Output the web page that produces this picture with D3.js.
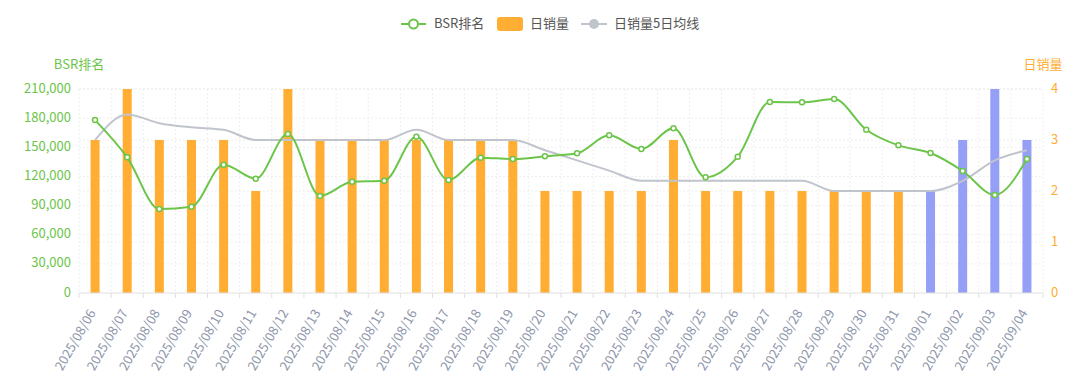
<!DOCTYPE html>
<html>
<head>
<meta charset="utf-8">
<script src="https://cdn.jsdelivr.net/npm/d3@7/dist/d3.min.js"></script>
<style>
  html, body { margin: 0; padding: 0; background: #fff; }
  svg { display: block; font-family: "Noto Sans CJK SC", "Noto Sans", sans-serif; }
</style>
</head>
<body>
<div id="chart"></div>
<script>
// data
const dates = [
  '2025/08/06', '2025/08/07', '2025/08/08', '2025/08/09', '2025/08/10', '2025/08/11',
  '2025/08/12', '2025/08/13', '2025/08/14', '2025/08/15', '2025/08/16', '2025/08/17',
  '2025/08/18', '2025/08/19', '2025/08/20', '2025/08/21', '2025/08/22', '2025/08/23',
  '2025/08/24', '2025/08/25', '2025/08/26', '2025/08/27', '2025/08/28', '2025/08/29',
  '2025/08/30', '2025/08/31', '2025/09/01', '2025/09/02', '2025/09/03', '2025/09/04'
];
const bsrRank = [
  178000, 139700, 86500, 88900, 132100, 117700,
  163700, 99900, 114600, 115600, 160900, 116300,
  139300, 137900, 140700, 143800, 162300, 148200,
  169500, 119100, 140300, 196600, 196300, 199700,
  168100, 152000, 144100, 125600, 100900, 137900
];
const dailySales = [
  3, 4, 3, 3, 3, 2,
  4, 3, 3, 3, 3, 3,
  3, 3, 2, 2, 2, 2,
  3, 2, 2, 2, 2, 2,
  2, 2, 2, 3, 4, 3
];
const salesMa5 = [
  3, 3.5, 3.33, 3.25, 3.2, 3,
  3, 3, 3, 3, 3.2, 3,
  3, 3, 2.8, 2.6, 2.4, 2.2,
  2.2, 2.2, 2.2, 2.2, 2.2, 2,
  2, 2, 2, 2.2, 2.6, 2.8
];
// the last days are drawn in blue
const highlightFrom = '2025/09/01';
const leftTicks = [0, 30000, 60000, 90000, 120000, 150000, 180000, 210000];
const rightTicks = [0, 1, 2, 3, 4];

const COLORS = {
  bsr: '#6cc54a',
  sales: '#ffad33',
  salesHi: '#959ff6',
  ma: '#c0c4cc',
  label: '#8e96ab',
  grid: '#eeeeee',
  axis: '#e0e0e0',
  legendText: '#555'
};
const FONT = 13;

const W = 1078, H = 387;
const margin = { top: 89, right: 35, bottom: 94, left: 79 };
const innerW = W - margin.left - margin.right;
const innerH = H - margin.top - margin.bottom;

const svg = d3.select('#chart').append('svg')
  .attr('width', W)
  .attr('height', H);

const g = svg.append('g')
  .attr('transform', `translate(${margin.left},${margin.top})`);

const x = d3.scaleBand().domain(dates).range([0, innerW]);
const yLeft = d3.scaleLinear().domain([0, 210000]).range([innerH, 0]);
const yRight = d3.scaleLinear().domain([0, 4]).range([innerH, 0]);
const cx = d => x(d) + x.bandwidth() / 2;

// grid lines, both axes
const grid = g.append('g');
leftTicks.slice(1).forEach(t => {
  grid.append('line')
    .attr('x1', 0).attr('x2', innerW)
    .attr('y1', yLeft(t)).attr('y2', yLeft(t))
    .attr('stroke', COLORS.grid).attr('stroke-dasharray', '2,2');
});
rightTicks.slice(1).forEach(t => {
  grid.append('line')
    .attr('x1', 0).attr('x2', innerW)
    .attr('y1', yRight(t)).attr('y2', yRight(t))
    .attr('stroke', COLORS.grid).attr('stroke-dasharray', '2,2');
});
dates.forEach(d => {
  grid.append('line')
    .attr('x1', x(d)).attr('x2', x(d))
    .attr('y1', 0).attr('y2', innerH)
    .attr('stroke', COLORS.grid).attr('stroke-dasharray', '2,2');
});
grid.append('line')
  .attr('x1', innerW).attr('x2', innerW)
  .attr('y1', 0).attr('y2', innerH)
  .attr('stroke', COLORS.grid).attr('stroke-dasharray', '2,2');

// bars
const barW = 9;
g.selectAll('.bar')
  .data(dates)
  .join('rect')
  .attr('class', 'bar')
  .attr('x', d => cx(d) - barW / 2)
  .attr('width', barW)
  .attr('y', (d, i) => yRight(dailySales[i]))
  .attr('height', (d, i) => innerH - yRight(dailySales[i]))
  .attr('fill', d => d >= highlightFrom ? COLORS.salesHi : COLORS.sales);

// moving average line
const maLine = d3.line()
  .x((d, i) => cx(dates[i]))
  .y(d => yRight(d))
  .curve(d3.curveMonotoneX);
g.append('path')
  .datum(salesMa5)
  .attr('d', maLine)
  .attr('fill', 'none')
  .attr('stroke', COLORS.ma)
  .attr('stroke-width', 2);

// BSR line
const bsrLine = d3.line()
  .x((d, i) => cx(dates[i]))
  .y(d => yLeft(d))
  .curve(d3.curveMonotoneX);
g.append('path')
  .datum(bsrRank)
  .attr('d', bsrLine)
  .attr('fill', 'none')
  .attr('stroke', COLORS.bsr)
  .attr('stroke-width', 2);
g.selectAll('.bsr-dot')
  .data(bsrRank)
  .join('circle')
  .attr('class', 'bsr-dot')
  .attr('cx', (d, i) => cx(dates[i]))
  .attr('cy', d => yLeft(d))
  .attr('r', 2.5)
  .attr('fill', '#fff')
  .attr('stroke', COLORS.bsr)
  .attr('stroke-width', 1.5);

// x axis
const xAxis = g.append('g').attr('transform', `translate(0,${innerH})`);
xAxis.append('line')
  .attr('x1', 0).attr('x2', innerW)
  .attr('stroke', COLORS.axis);
dates.forEach(d => {
  xAxis.append('line')
    .attr('x1', x(d)).attr('x2', x(d))
    .attr('y1', 0).attr('y2', 5)
    .attr('stroke', COLORS.axis);
});
xAxis.append('line')
  .attr('x1', innerW).attr('x2', innerW)
  .attr('y1', 0).attr('y2', 5)
  .attr('stroke', COLORS.axis);
xAxis.selectAll('.xlabel')
  .data(dates)
  .join('text')
  .attr('class', 'xlabel')
  .attr('transform', d => `translate(${cx(d) - 2},${18}) rotate(-60)`)
  .attr('text-anchor', 'end')
  .attr('dominant-baseline', 'middle')
  .attr('font-size', FONT)
  .attr('fill', COLORS.label)
  .text(d => d);

// left axis
g.selectAll('.ylabel-left')
  .data(leftTicks)
  .join('text')
  .attr('class', 'ylabel-left')
  .attr('x', -8)
  .attr('y', d => yLeft(d))
  .attr('text-anchor', 'end')
  .attr('dominant-baseline', 'middle')
  .attr('font-size', FONT)
  .attr('fill', COLORS.bsr)
  .text(d => d3.format(',')(d));

// right axis
g.selectAll('.ylabel-right')
  .data(rightTicks)
  .join('text')
  .attr('class', 'ylabel-right')
  .attr('x', innerW + 8)
  .attr('y', d => yRight(d))
  .attr('text-anchor', 'start')
  .attr('dominant-baseline', 'middle')
  .attr('font-size', FONT)
  .attr('fill', COLORS.sales)
  .text(d => d);

// axis titles
svg.append('text')
  .attr('x', margin.left)
  .attr('y', 65)
  .attr('text-anchor', 'middle')
  .attr('dominant-baseline', 'middle')
  .attr('font-size', FONT)
  .attr('fill', COLORS.bsr)
  .text('BSR排名');
svg.append('text')
  .attr('x', margin.left + innerW)
  .attr('y', 65)
  .attr('text-anchor', 'middle')
  .attr('dominant-baseline', 'middle')
  .attr('font-size', FONT)
  .attr('fill', COLORS.sales)
  .text('日销量');

// legend
const legend = svg.append('g').attr('transform', 'translate(0,24)');
// BSR
legend.append('line')
  .attr('x1', 401).attr('x2', 426)
  .attr('stroke', COLORS.bsr).attr('stroke-width', 2);
legend.append('circle')
  .attr('cx', 413.5).attr('r', 4.5)
  .attr('fill', '#fff').attr('stroke', COLORS.bsr).attr('stroke-width', 2);
legend.append('text')
  .attr('x', 434).attr('dominant-baseline', 'middle')
  .attr('font-size', FONT).attr('fill', COLORS.legendText)
  .text('BSR排名');
// sales
legend.append('rect')
  .attr('x', 497).attr('y', -7)
  .attr('width', 26).attr('height', 14).attr('rx', 3)
  .attr('fill', COLORS.sales);
legend.append('text')
  .attr('x', 530).attr('dominant-baseline', 'middle')
  .attr('font-size', FONT).attr('fill', COLORS.legendText)
  .text('日销量');
// moving average
legend.append('line')
  .attr('x1', 581).attr('x2', 607)
  .attr('stroke', COLORS.ma).attr('stroke-width', 2);
legend.append('circle')
  .attr('cx', 594).attr('r', 5)
  .attr('fill', COLORS.ma);
legend.append('text')
  .attr('x', 614).attr('dominant-baseline', 'middle')
  .attr('font-size', FONT).attr('fill', COLORS.legendText)
  .text('日销量5日均线');
</script>
</body>
</html>
